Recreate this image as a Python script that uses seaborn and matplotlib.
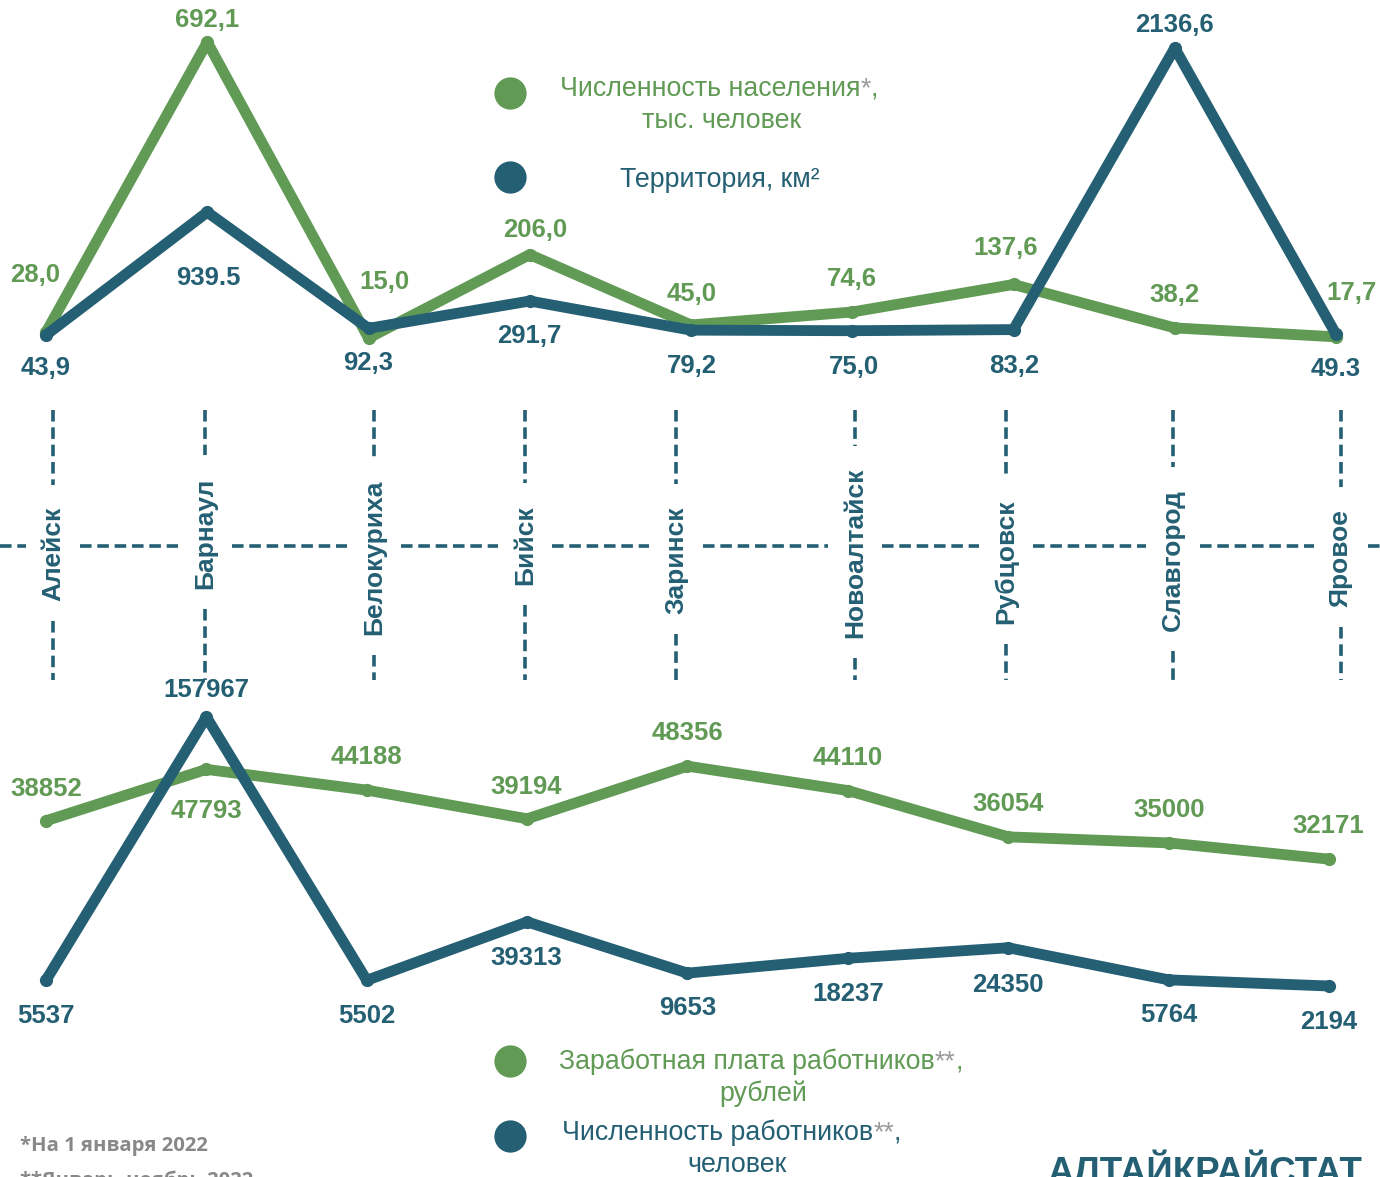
import numpy as np
import pandas as pd
import matplotlib
matplotlib.use("Agg")
import matplotlib.pyplot as plt
import seaborn as sns

# Data
cities = ["Алейск", "Барнаул", "Белокуриха", "Бийск", "Заринск",
          "Новоалтайск", "Рубцовск", "Славгород", "Яровое"]
population = [28.0, 692.1, 15.0, 206.0, 45.0, 74.6, 137.6, 38.2, 17.7]
population_labels = ["28,0", "692,1", "15,0", "206,0", "45,0", "74,6", "137,6", "38,2", "17,7"]
territory = [43.9, 939.5, 92.3, 291.7, 79.2, 75.0, 83.2, 2136.6, 49.3]
territory_labels = ["43,9", "939.5", "92,3", "291,7", "79,2", "75,0", "83,2", "2136,6", "49.3"]
wages = [38852, 47793, 44188, 39194, 48356, 44110, 36054, 35000, 32171]
workers = [5537, 157967, 5502, 39313, 9653, 18237, 24350, 5764, 2194]

GREEN = "#609a54"
BLUE = "#245f73"
GRAY = "#999999"
FOOT_GRAY = "#888888"

# label offsets in pixels (dx right, dy down) from each point
pop_off = [(-11, -57), (0, -22), (16, -56), (5, -25), (1, -31), (0, -33), (-8, -36), (0, -33), (16, -44)]
ter_off = [(0, 33), (1, 66), (0, 35), (0, 35), (1, 36), (2, 36), (1, 36), (0, -23), (0, 35)]
wage_off = [(0, -32), (0, 42), (0, -33), (-1, -32), (0, -33), (0, -33), (0, -33), (0, -33), (-1, -33)]
work_off = [(0, 36), (0, -27), (0, 36), (-1, 36), (0, 35), (0, 36), (0, 37), (0, 35), (0, 36)]

# city label positions (px)
label_x = [53, 205, 374, 525, 676, 855, 1006, 1173, 1341]
label_y = [554, 533, 557, 545, 560, 553, 562, 560, 558]

sns.set_theme(style="white")
plt.rcParams["font.family"] = ["Liberation Sans", "DejaVu Sans"]

W, H = 1380, 1177
fig = plt.figure(figsize=(W / 100, H / 100), dpi=100)
fig.patch.set_facecolor("white")


def box(left, top, width, height):
    return [left / W, 1 - (top + height) / H, width / W, height / H]


top = pd.DataFrame({"pos": np.arange(len(cities)), "population": population, "territory": territory})
bottom = pd.DataFrame({"pos": np.arange(len(cities)), "wages": wages, "workers": workers})

LW = 7.8
MS = 9.5


def draw_series(ax, df, col, color, labels, offsets):
    sns.lineplot(data=df, x="pos", y=col, ax=ax, color=color, linewidth=LW,
                 marker="o", markersize=MS, markeredgewidth=0, solid_capstyle="round")
    for i, (v, lab) in enumerate(zip(df[col], labels)):
        dx, dy = offsets[i]
        ax.annotate(lab, xy=(i, v), xytext=(dx * 0.72, -dy * 0.72), textcoords="offset points",
                    ha="center", va="center", fontsize=18.5, fontweight="bold", color=color)
    ax.axis("off")


# upper panel: population vs territory
ax1 = fig.add_axes(box(0, 0, W, 390))
ax1b = ax1.twinx()
draw_series(ax1, top, "population", GREEN, population_labels, pop_off)
draw_series(ax1b, top, "territory", BLUE, territory_labels, ter_off)
for a in (ax1, ax1b):
    a.set_xlim(-46 / 161.25, (W - 46) / 161.25)
ax1.set_ylim(-103.9, 788.6)
ax1b.set_ylim(-357.4, 2487)

# lower panel: wages vs workers
ax2 = fig.add_axes(box(0, 690, W, 350))
ax2b = ax2.twinx()
draw_series(ax2, bottom, "wages", GREEN, [str(v) for v in wages], wage_off)
draw_series(ax2b, bottom, "workers", BLUE, [str(v) for v in workers], work_off)
for a in (ax2, ax2b):
    a.set_xlim(-46 / 160.375, (W - 46) / 160.375)
ax2.set_ylim(696, 61609)
ax2b.set_ylim(-29070, 173600)

# overlay for labels, dashed grid, legends, footnotes
ov = fig.add_axes([0, 0, 1, 1], zorder=-1)
ov.set_xlim(0, W)
ov.set_ylim(H, 0)
ov.axis("off")

city_texts = []
for x, y, name in zip(label_x, label_y, cities):
    t = ov.text(x, y, name, rotation=90, ha="center", va="center",
                fontsize=19, fontweight="bold", color=BLUE)
    city_texts.append(t)

fig.canvas.draw()
renderer = fig.canvas.get_renderer()
dash = dict(color=BLUE, linewidth=2.6, dashes=(3.2, 1.6))
for x, t in zip(label_x, city_texts):
    ext = t.get_window_extent(renderer)
    t_top = H - ext.y1
    t_bot = H - ext.y0
    ov.plot([x, x], [410, t_top - 22], **dash)
    ov.plot([x, x], [t_bot + 20, 680], **dash)
hx = [0] + [v for x in label_x for v in (x - 27, x + 27)] + [W]
for i in range(0, len(hx), 2):
    ov.plot([hx[i], hx[i + 1]], [546, 546], **dash)

LEG_FS = 19.3


def legend_entry(cy, lines, color):
    ov.scatter([510], [cy], s=540, color=color, linewidths=0)
    for (x, y, parts, ha) in lines:
        prev = None
        for txt, c in parts:
            if prev is None:
                prev = ov.text(x, y, txt, color=c, fontsize=LEG_FS, ha=ha, va="center")
            else:
                prev = ov.annotate(txt, xy=(1, 0), xycoords=prev, color=c, fontsize=LEG_FS,
                                   ha="left", va="bottom")


legend_entry(93, [(560, 89, [("Численность населения", GREEN), ("*", GRAY), (",", GREEN)], "left"),
                  (722, 121, [("тыс. человек", GREEN)], "center")], GREEN)
legend_entry(177, [(720, 180, [("Территория, км²", BLUE)], "center")], BLUE)
legend_entry(1061, [(559, 1062, [("Заработная плата работников", GREEN), ("**", GRAY), (",", GREEN)], "left"),
                    (763, 1094, [("рублей", GREEN)], "center")], GREEN)
legend_entry(1136, [(562, 1133, [("Численность работников", BLUE), ("**", GRAY), (",", BLUE)], "left"),
                    (737, 1165, [("человек", BLUE)], "center")], BLUE)

foot = ["Open Sans", "DejaVu Sans"]
ov.text(20, 1146, "*На 1 января 2022", color=FOOT_GRAY, fontsize=14.6, fontweight="bold",
        family=foot, ha="left", va="center")
ov.text(20, 1171, "**Январь-ноябрь 2022", color=FOOT_GRAY, fontsize=14.6, fontweight="bold",
        family=foot, ha="left", va="top")
ov.text(1047, 1156, "АЛТАЙКРАЙСТАТ", color=BLUE, fontsize=26.4, fontweight="bold",
        ha="left", va="top")

fig.savefig("out.png", dpi=100, facecolor="white")
